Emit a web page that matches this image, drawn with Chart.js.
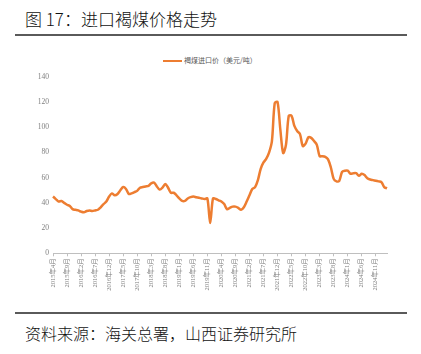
<!DOCTYPE html>
<html>
<head>
<meta charset="utf-8">
<script src="https://cdn.jsdelivr.net/npm/chart.js@4.4.1/dist/chart.umd.min.js"></script>
<style>
body { margin: 0; width: 421px; height: 354px; background: #fff; position: relative; overflow: hidden; font-family: "Noto Sans CJK SC", sans-serif; }
#titulo { position: absolute; left: 25px; top: 6px; font-size: 17px; font-weight: 300; color: #111; white-space: nowrap; }
.linha { position: absolute; left: 15px; width: 392px; height: 2px; background: #5a5a5a; }
#legenda { position: absolute; left: 163px; top: 55px; font-size: 7px; color: #595959; white-space: nowrap; }
#legenda span { display: inline-block; width: 19px; height: 2.5px; background: #ED7D31; vertical-align: middle; margin-right: 2px; }
#grafico { position: absolute; left: 0; top: 66px; }
#fonte { position: absolute; left: 25px; top: 321px; font-size: 16px; font-weight: 300; color: #111; white-space: nowrap; }
</style>
</head>
<body>
<div id="titulo">图 17：进口褐煤价格走势</div>
<div class="linha" style="top:34px"></div>
<div id="legenda"><span></span>褐煤进口价（美元/吨）</div>
<canvas id="grafico" width="421" height="244"></canvas>
<div class="linha" style="top:312px"></div>
<div id="fonte">资料来源：海关总署，山西证券研究所</div>
<script>
// meses 2015年4月 ... 2025年3月
const meses = [
    "2015年4月", "2015年5月", "2015年6月", "2015年7月", "2015年8月", "2015年9月", "2015年10月", "2015年11月", "2015年12月",
    "2016年1月", "2016年2月", "2016年3月", "2016年4月", "2016年5月", "2016年6月", "2016年7月", "2016年8月", "2016年9月", "2016年10月", "2016年11月", "2016年12月",
    "2017年1月", "2017年2月", "2017年3月", "2017年4月", "2017年5月", "2017年6月", "2017年7月", "2017年8月", "2017年9月", "2017年10月", "2017年11月", "2017年12月",
    "2018年1月", "2018年2月", "2018年3月", "2018年4月", "2018年5月", "2018年6月", "2018年7月", "2018年8月", "2018年9月", "2018年10月", "2018年11月", "2018年12月",
    "2019年1月", "2019年2月", "2019年3月", "2019年4月", "2019年5月", "2019年6月", "2019年7月", "2019年8月", "2019年9月", "2019年10月", "2019年11月", "2019年12月",
    "2020年1月", "2020年2月", "2020年3月", "2020年4月", "2020年5月", "2020年6月", "2020年7月", "2020年8月", "2020年9月", "2020年10月", "2020年11月", "2020年12月",
    "2021年1月", "2021年2月", "2021年3月", "2021年4月", "2021年5月", "2021年6月", "2021年7月", "2021年8月", "2021年9月", "2021年10月", "2021年11月", "2021年12月",
    "2022年1月", "2022年2月", "2022年3月", "2022年4月", "2022年5月", "2022年6月", "2022年7月", "2022年8月", "2022年9月", "2022年10月", "2022年11月", "2022年12月",
    "2023年1月", "2023年2月", "2023年3月", "2023年4月", "2023年5月", "2023年6月", "2023年7月", "2023年8月", "2023年9月", "2023年10月", "2023年11月", "2023年12月",
    "2024年1月", "2024年2月", "2024年3月", "2024年4月", "2024年5月", "2024年6月", "2024年7月", "2024年8月", "2024年9月", "2024年10月", "2024年11月", "2024年12月",
    "2025年1月", "2025年2月", "2025年3月"
];

// 褐煤进口价（美元/吨）
const precos = [
    45, 43, 41, 41.5, 40, 38.5, 37.5, 35, 34.5,
    34, 33, 32.5, 33.5, 34, 33.5, 34, 34.5, 36.5, 39, 41, 45,
    47.5, 46, 47, 50, 52.5, 51, 47, 47.5, 48.5, 49.5, 52, 52.5,
    53, 53.5, 55.5, 56, 53, 50.5, 52, 55, 52, 48, 48, 46,
    43.5, 41.5, 41.5, 43.5, 44.5, 45, 44.5, 44, 43.5, 43, 43.5, 24,
    43.5, 43, 42, 41, 39, 35, 36, 37, 37, 36, 34.5, 36.5,
    41, 46, 51, 52.5, 58, 67, 72, 75, 80, 89, 119, 120,
    98, 79.5, 86, 109, 109, 101, 97, 94.5, 85, 87, 92, 91.5,
    89, 86, 77, 77, 76.5, 74.5, 68, 59, 57, 57.5, 64.5, 65.5,
    65.5, 63, 63.5, 63.5, 61.5, 63, 62, 59.5, 58.5, 58, 57.5, 57,
    56.5, 52.5, 51.5
];

const ticksY = [0, 20, 40, 60, 80, 100, 120, 140];
const passoX = 5; // um rotulo a cada 5 meses

const cinza = "#7f7f7f";
const laranja = "#ED7D31";

const ctx = document.getElementById("grafico");
const chart = new Chart(ctx, {
    type: "line",
    data: {
        labels: meses,
        datasets: [{
            label: "褐煤进口价（美元/吨）",
            data: precos,
            borderColor: laranja,
            backgroundColor: laranja,
            borderWidth: 2.5,
            pointRadius: 0,
            tension: 0.3
        }]
    },
    options: {
        responsive: false,
        animation: false,
        devicePixelRatio: 1,
        layout: {
            padding: { left: 0, right: 34, top: 10.7, bottom: 0 }
        },
        plugins: {
            legend: { display: false },
            tooltip: { enabled: false }
        },
        scales: {
            y: {
                min: ticksY[0],
                max: ticksY[ticksY.length - 1],
                afterBuildTicks: (s) => { s.ticks = ticksY.map(v => ({ value: v })); },
                afterFit: (s) => { s.width = 53; },
                grid: { display: false, drawTicks: false },
                border: { display: false },
                ticks: {
                    color: cinza,
                    padding: 4,
                    font: { family: "Liberation Serif", size: 7.5 }
                }
            },
            x: {
                afterFit: (s) => { s.height = 56.7; },
                grid: {
                    drawOnChartArea: false,
                    tickLength: 3,
                    color: (c) => (c.index % passoX === 0 ? "#bfbfbf" : "rgba(0,0,0,0)")
                },
                border: { display: true, color: "#bfbfbf", width: 1 },
                ticks: {
                    autoSkip: false,
                    minRotation: 90,
                    maxRotation: 90,
                    padding: 2,
                    color: cinza,
                    font: { family: "Liberation Serif, Noto Sans CJK SC", size: 6.5 },
                    callback: (v, i) => (i % passoX === 0 ? meses[i] : "")
                }
            }
        }
    }
});
</script>
</body>
</html>
